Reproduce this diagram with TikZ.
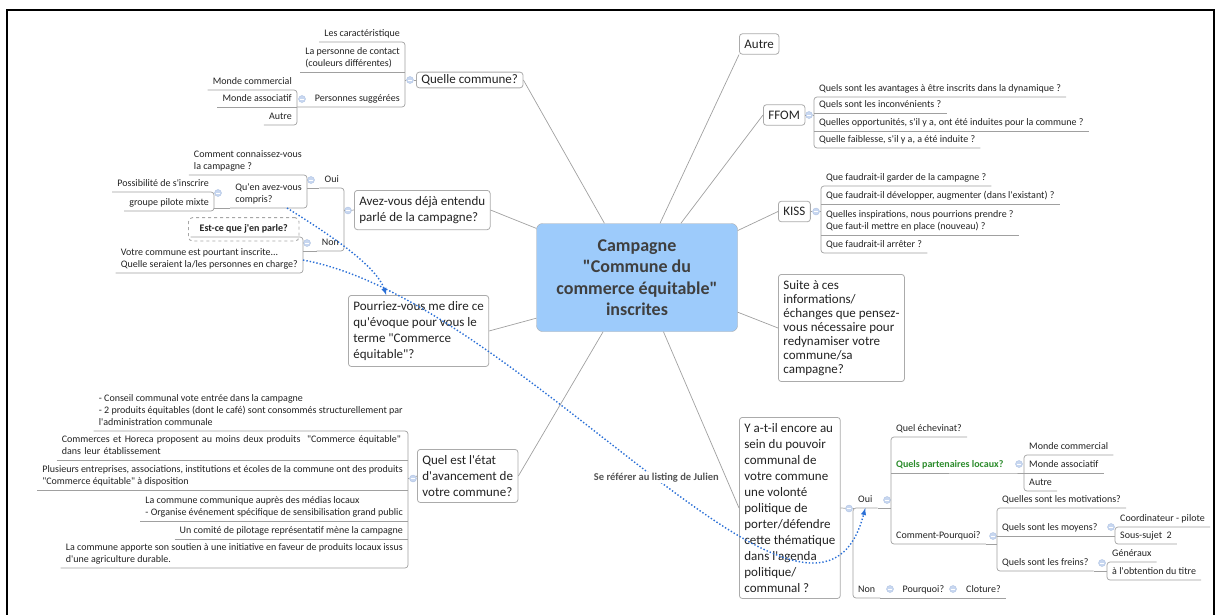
\documentclass[tikz,border=0pt]{standalone}
\usepackage{fontspec}
\setmainfont{Carlito}[Ligatures=TeXOff]
\usetikzlibrary{arrows,positioning,fit}

\definecolor{linegray}{HTML}{A0A0A0}
\definecolor{boxgray}{HTML}{ABABAB}
\definecolor{rootfill}{HTML}{9DCBFB}
\definecolor{roottext}{HTML}{3F3F3F}
\definecolor{relblue}{HTML}{2A6FD6}
\definecolor{foldfill}{HTML}{C8D7F0}
\definecolor{foldedge}{HTML}{AFC3E3}
\definecolor{partgreen}{HTML}{2C8C2C}
\definecolor{labelgray}{HTML}{555555}
\definecolor{inkgray}{HTML}{222222}

\begin{document}
\begin{tikzpicture}[x=1pt,y=-1pt,>=latex,
    root/.style={draw=boxgray,fill=rootfill,rounded corners=6pt,align=center,text=roottext,
      font=\fontsize{18}{21.5}\selectfont\bfseries,minimum width=201pt,minimum height=108pt},
    topic/.style={draw=boxgray,line width=0.8pt,rounded corners=3pt,align=left,text=inkgray,
      font=\fontsize{13}{16}\selectfont,inner xsep=5pt,inner ysep=6pt},
    leaf/.style={align=left,text=inkgray,font=\fontsize{10}{12}\selectfont,
      inner xsep=5pt,inner ysep=1.5pt,execute at end node=\strut},
    leafL/.style={leaf,anchor=south east},
    leafR/.style={leaf,anchor=south west},
    link/.style={draw=linegray,line width=0.7pt},
    branch/.style={link,rounded corners=3pt},
    fold/.style={circle,draw=foldedge,fill=foldfill,minimum size=7pt,inner sep=0pt,
      path picture={\draw[white,line width=0.7pt] ([xshift=-2pt]path picture bounding box.center)
        -- ([xshift=2pt]path picture bounding box.center);}},
    hilite/.style={draw=gray!70,dashed,line width=0.9pt,rounded corners=4pt,inner xsep=2pt,inner ysep=4pt},
    rel/.style={->,relblue,dotted,line width=1.4pt},
    reltext/.style={font=\fontsize{10.5}{12}\selectfont\bfseries,text=labelgray,fill=white,inner sep=1pt}]

\useasboundingbox (0,0) rectangle (1221,614);
\draw[line width=1.5pt] (7,616) -- (7,10) -- (1214,10) -- (1214,616);

% centre
\node[root] (root) at (637,277.5) {Campagne\\"Commune du\\commerce équitable"\\inscrites};

% main topics
\node[topic,anchor=west,inner ysep=2.5pt] (qc) at (416,80) {Quelle commune?};
\node[topic,anchor=north west] (av) at (354,190) {Avez-vous déjà entendu\\parlé de la campagne?};
\node[topic,anchor=north west] (pv) at (348,295) {Pourriez-vous me dire ce\\qu'évoque pour vous le\\terme "Commerce\\équitable"?};
\node[topic,anchor=north west] (qe) at (417,449) {Quel est l'état\\d'avancement de\\votre commune?};
\node[topic,anchor=west] (autre) at (739,44) {Autre};
\node[topic,anchor=west] (ffom) at (763,115) {FFOM};
\node[topic,anchor=west] (kiss) at (778,211.5) {KISS};
\node[topic,anchor=north west,font=\fontsize{13}{14}\selectfont] (suite) at (778,274) {Suite à ces\\informations/\\échanges que pensez-\\vous nécessaire pour\\redynamiser votre\\commune/sa\\campagne?};
\node[topic,anchor=north west] (yq) at (739,417) {Y a-t-il encore au\\sein du pouvoir\\communal de\\votre commune\\une volonté\\politique de\\porter/défendre\\cette thématique\\dans l'agenda\\politique/\\communal ?};

\draw[link] (root.121) -- (qc.east);
\draw[link] (root.154) -- (av.east);
\draw[link] (root.202) -- (pv.east);
\draw[link] (root.238) -- (qe.east);
\draw[link] (root.67) -- (autre.south west);
\draw[link] (root.51) -- (ffom.west);
\draw[link] (root.25) -- (kiss.west);
\draw[link] (root.341) -- (suite.west);
\draw[link] (root.296) -- (yq.west);

% Quelle commune?
\node[fold] (qcf) at (410,80) {};
\node[leafL] (qc1) at (405,42) {Les caractéristique};
\node[leafL] (qc2) at (405,72) {La personne de contact\\(couleurs différentes)};
\node[leafL] (qc3) at (405,107) {Personnes suggérées};
\node[fold] (qc3f) at (302,99) {};
\node[leafL] (qc31) at (297,90) {Monde commercial};
\node[leafL] (qc32) at (297,107) {Monde associatif};
\node[leafL] (qc33) at (297,125) {Autre};
\draw[link] (qc.west) -- (qcf);
\draw[link] (qcf) -- (qcf -| qc1.south east);
\draw[branch] (qc1.south west) -- (qc1.south east) -- (qc3.south east) -- (qc3.south west) -- (qc32.south east);
\draw[branch] (qc2.south west) -- (qc2.south east);
\draw[branch] (qc31.south west) -- (qc31.south east) -- (qc33.south east) -- (qc33.south west);
\draw[branch] (qc32.south west) -- (qc32.south east);

% Avez-vous deja entendu
\node[fold] (avf) at (348,210.5) {};
\node[leafL] (avO) at (344,188) {Oui};
\node[leafL] (avN) at (344,251) {Non};
\node[fold] (avOf) at (311,180) {};
\node[fold] (avNf) at (307,243) {};
\node[leafL] (avO1) at (307,175) {Comment connaissez-vous\\la campagne ?};
\node[leafL] (avO2) at (307,208) {Qu'en avez-vous\\compris?};
\node[fold] (avO2f) at (218,193) {};
\node[leafL] (avO21) at (214,192) {Possibilité de s'inscrire};
\node[leafL] (avO22) at (214,211) {groupe pilote mixte};
\node[leafL,font=\fontsize{10}{12}\selectfont\bfseries,inner xsep=9pt] (avN1) at (297,237) {Est-ce que j'en parle?};
\node[hilite,fit=(avN1)] (avN1box) {};
\node[leafL] (avN2) at (303,273) {Votre commune est pourtant inscrite...\\Quelle seraient la/les personnes en charge?};
\draw[link] (av.west) -- (avf);
\draw[link] (avf) -- (avf -| avO.south east);
\draw[branch] (avO.south west) -- (avO.south east) -- (avN.south east) -- (avN.south west);
\draw[branch] (avO.south west) -- (avO.south west -| avO1.south east);
\draw[branch] (avN.south west) -- (avN.south west -| avN2.south east);
\draw[branch] (avO1.south west) -- (avO1.south east) -- (avO2.south east) -- (avO2.south west);
\draw[branch] (avO2.south west) -- (avO2.south west -| avO21.south east);
\draw[branch] (avO21.south west) -- (avO21.south east) -- (avO22.south east) -- (avO22.south west);
\draw[branch] (avN1.south west) -- (avN1.south east -| avN2.south east) -- (avN2.south east) -- (avN2.south west);

% Quel est l'etat d'avancement
\node[fold] (qef) at (413,478.5) {};
\node[leafL] (qe1) at (408,431) {- Conseil communal vote entrée dans la campagne\\- 2 produits équitables (dont le café) sont consommés structurellement par\\l'administration communale};
\node[leafL,text width=341pt] (qe2) at (408,460) {Commerces et Horeca proposent au moins deux produits~ "Commerce équitable"\\dans leur établissement};
\node[leafL] (qe3) at (408,490) {Plusieurs entreprises, associations, institutions et écoles de la commune ont des produits\\"Commerce équitable" à disposition};
\node[leafL] (qe4) at (408,521) {La commune communique auprès des médias locaux\\- Organise événement spécifique de sensibilisation grand public};
\node[leafL] (qe5) at (408,539) {Un comité de pilotage représentatif mène la campagne};
\node[leafL] (qe6) at (408,568) {La commune apporte son soutien à une initiative en faveur de produits locaux issus\\d'une agriculture durable.};
\draw[link] (qe.west) -- (qef);
\draw[link] (qef) -- (qef -| qe1.south east);
\draw[branch] (qe1.south west) -- (qe1.south east) -- (qe6.south east) -- (qe6.south west);
\foreach \n in {qe2,qe3,qe4,qe5}
  \draw[branch] (\n.south west) -- (\n.south east);

% FFOM
\node[fold] (ffomf) at (809,115) {};
\node[leafR] (ff1) at (814,97) {Quels sont les avantages à être inscrits dans la dynamique ?};
\node[leafR] (ff2) at (814,113) {Quels sont les inconvénients ?};
\node[leafR] (ff3) at (814,131) {Quelles opportunités, s'il y a, ont été induites pour la commune ?};
\node[leafR] (ff4) at (814,148) {Quelle faiblesse, s'il y a, a été induite ?};
\draw[link] (ffom.east) -- (ffomf);
\draw[link] (ffomf) -- (ffomf -| ff1.south west);
\draw[branch] (ff1.south east) -- (ff1.south west) -- (ff4.south west) -- (ff4.south east);
\foreach \n in {ff2,ff3}
  \draw[branch] (\n.south west) -- (\n.south east);

% KISS
\node[fold] (kissf) at (816,211.5) {};
\node[leafR] (ks1) at (821,186) {Que faudrait-il garder de la campagne ?};
\node[leafR] (ks2) at (821,204) {Que faudrait-il développer, augmenter (dans l'existant) ?};
\node[leafR] (ks3) at (821,235) {Quelles inspirations, nous pourrions prendre ?\\Que faut-il mettre en place (nouveau) ?};
\node[leafR] (ks4) at (821,253) {Que faudrait-il arrêter ?};
\draw[link] (kiss.east) -- (kissf);
\draw[link] (kissf) -- (kissf -| ks1.south west);
\draw[branch] (ks1.south east) -- (ks1.south west) -- (ks4.south west) -- (ks4.south east);
\foreach \n in {ks2,ks3}
  \draw[branch] (\n.south west) -- (\n.south east);

% Y a-t-il encore
\node[fold] (yqf) at (849,508.5) {};
\node[leafR] (yO) at (853,508) {Oui};
\node[leafR] (yN) at (853,598) {Non};
\node[fold] (yOf) at (887,500) {};
\node[fold] (yNf) at (890,589) {};
\node[leafR] (yPq) at ([xshift=17pt]yN.south east) {Pourquoi?};
\node[fold] (yPqf) at (953,589) {};
\node[leafR] (yCl) at (961,598) {Cloture?};
\node[leafR] (yO1) at (891,437) {Quel échevinat?};
\node[leafR,font=\fontsize{10}{12}\selectfont\bfseries,text=partgreen] (yO2) at (891,473) {Quels partenaires locaux?};
\node[fold] (yO2f) at (1019,464) {};
\node[leafR] (yO21) at (1024,455) {Monde commercial};
\node[leafR] (yO22) at (1024,473) {Monde associatif};
\node[leafR] (yO23) at (1024,491) {Autre};
\node[leafR] (yO3) at (891,544) {Comment-Pourquoi?};
\node[fold] (yO3f) at (993,536) {};
\node[leafR] (yO31) at (997,508) {Quelles sont les motivations?};
\node[leafR] (yO32) at (997,536) {Quels sont les moyens?};
\node[fold] (yO32f) at (1111,527) {};
\node[leafR] (yO321) at (1115,527) {Coordinateur - pilote};
\node[leafR] (yO322) at (1115,544) {Sous-sujet~ 2};
\node[leafR] (yO33) at (997,571) {Quels sont les freins?};
\node[fold] (yO33f) at (1102,563) {};
\node[leafR] (yO331) at (1107,562) {Généraux};
\node[leafR] (yO332) at (1107,580) {à l'obtention du titre};
\draw[link] (yq.east) -- (yqf);
\draw[link] (yqf) -- (yqf -| yO.south west);
\draw[branch] (yO.south east) -- (yO.south west) -- (yN.south west) -- (yN.south east);
\draw[branch] (yO.south east) -- (yO.south east -| yO1.south west);
\draw[branch] (yN.south east) -- (yCl.south east);
\draw[branch] (yO1.south east) -- (yO1.south west) -- (yO3.south west) -- (yO3.south east);
\draw[branch] (yO2.south west) -- (yO2.south east) -- (yO2.south east -| yO21.south west);
\draw[branch] (yO21.south east) -- (yO21.south west) -- (yO23.south west) -- (yO23.south east);
\draw[branch] (yO22.south west) -- (yO22.south east);
\draw[branch] (yO3.south east) -- (yO3.south east -| yO31.south west);
\draw[branch] (yO31.south east) -- (yO31.south west) -- (yO33.south west) -- (yO33.south east);
\draw[branch] (yO32.south west) -- (yO32.south east) -- (yO32.south east -| yO321.south west);
\draw[branch] (yO321.south east) -- (yO321.south west) -- (yO322.south west) -- (yO322.south east);
\draw[branch] (yO33.south east) -- (yO33.south east -| yO331.south west);
\draw[branch] (yO331.south east) -- (yO331.south west) -- (yO332.south west) -- (yO332.south east);

% relationships
\draw[rel] ([xshift=-20pt]avO2.south east) .. controls +(40,25) and +(-10,-30) .. (pv.132);
\draw[rel] (avN2.east) .. controls +(217,39) and +(-50,192) .. (yO.south)
  node[reltext,pos=0.515] (julien) {Se référer au listing de Julien};

\end{tikzpicture}
\end{document}
